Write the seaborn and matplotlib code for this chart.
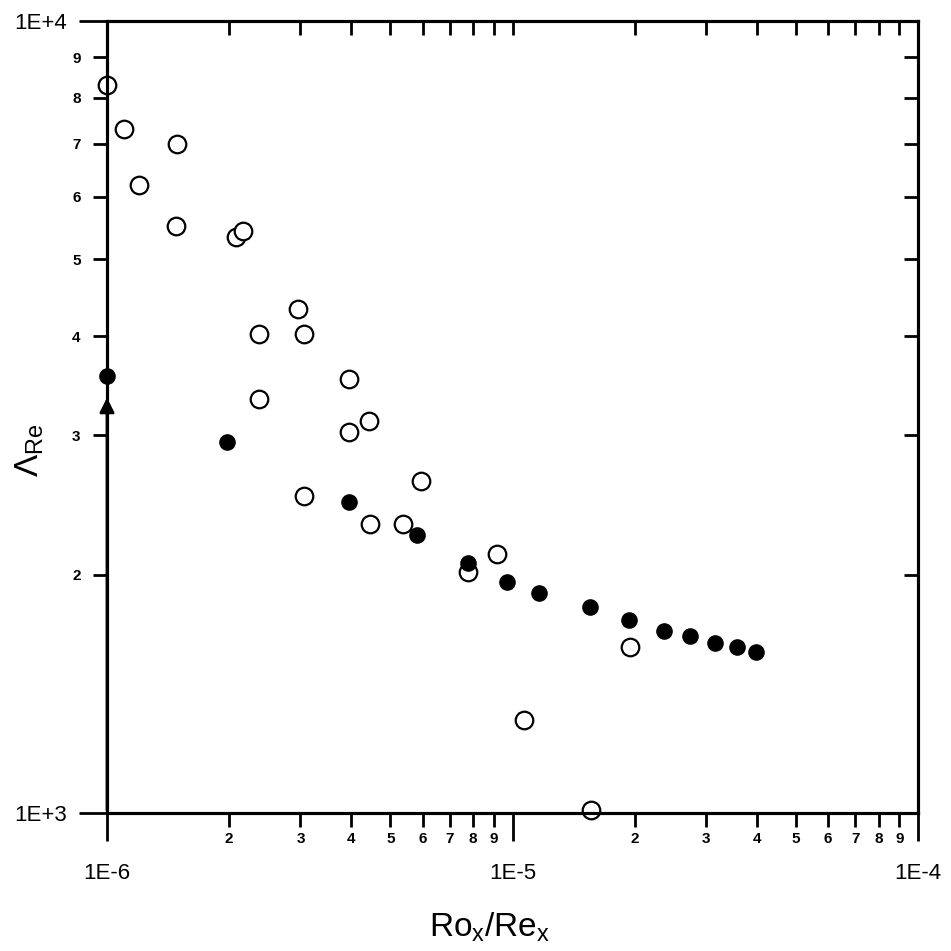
import matplotlib
matplotlib.use('Agg')
import matplotlib.pyplot as plt
import seaborn as sns
import pandas as pd

# open circles
open_x = [1.00e-6, 1.10e-6, 1.196e-6, 1.487e-6, 1.48e-6, 2.08e-6, 2.17e-6, 2.37e-6,
          2.37e-6, 2.96e-6, 3.06e-6, 3.06e-6, 3.95e-6, 3.95e-6, 4.43e-6, 4.44e-6,
          5.38e-6, 5.96e-6, 7.76e-6, 9.18e-6, 1.067e-5, 1.566e-5, 1.944e-5]
open_y = [8300, 7305, 6204, 7003, 5516, 5333, 5428, 4022,
          3328, 4331, 4027, 2514, 3529, 3024, 3130, 2320,
          2319, 2625, 2017, 2124, 1310, 1009, 1619]

# filled circles
fill_x = [1.00e-6, 1.98e-6, 3.95e-6, 5.83e-6, 7.77e-6, 9.68e-6, 1.162e-5,
          1.553e-5, 1.94e-5, 2.37e-5, 2.74e-5, 3.16e-5, 3.57e-5, 3.98e-5]
fill_y = [3564, 2939, 2467, 2244, 2071, 1957, 1894,
          1821, 1751, 1699, 1674, 1639, 1619, 1599]

# arrow at the left edge (lower bound)
arrow_x = 1.0e-6
arrow_top = 3373

x_major = [1e-6, 1e-5, 1e-4]
x_major_labels = ['1E-6', '1E-5', '1E-4']
y_major = [1e3, 1e4]
y_major_labels = ['1E+3', '1E+4']
digits = [2, 3, 4, 5, 6, 7, 8, 9]

sns.set_style('ticks')
plt.rcParams['font.family'] = ['Liberation Sans', 'DejaVu Sans']
plt.rcParams['mathtext.fontset'] = 'custom'
plt.rcParams['mathtext.rm'] = 'Liberation Sans'
plt.rcParams['mathtext.it'] = 'Liberation Sans:italic'
for key in ('text.color', 'axes.labelcolor', 'xtick.color', 'ytick.color', 'axes.edgecolor'):
    plt.rcParams[key] = 'black'

fig = plt.figure(figsize=(9.51, 9.51), dpi=100)
ax = fig.add_axes([107 / 951, 1 - 813 / 951, 811 / 951, 792 / 951])

df_open = pd.DataFrame({'x': open_x, 'y': open_y})
df_fill = pd.DataFrame({'x': fill_x, 'y': fill_y})

sns.scatterplot(data=df_open, x='x', y='y', ax=ax, s=160, color='white',
                edgecolor='black', linewidth=1.6, clip_on=False, zorder=3)
sns.scatterplot(data=df_fill, x='x', y='y', ax=ax, s=120, color='black',
                edgecolor='black', linewidth=1, clip_on=False, zorder=4)

ax.set_xscale('log')
ax.set_yscale('log')
ax.set_xlim(1e-6, 1e-4)
ax.set_ylim(1e3, 1e4)

ax.annotate('', xy=(arrow_x, arrow_top), xytext=(arrow_x, 1e3),
            arrowprops=dict(arrowstyle='-|>', color='black', lw=2, mutation_scale=22),
            annotation_clip=False)

# tick positions
x_minor = [d * 10.0 ** e for e in (-6, -5) for d in digits]
x_minor_labels = [str(d) for e in (-6, -5) for d in digits]
y_minor = [d * 1e3 for d in digits]
y_minor_labels = [str(d) for d in digits]

ax.set_xticks(x_major, x_major_labels, fontsize=16)
ax.set_xticks(x_minor, x_minor_labels, minor=True, fontsize=11, fontweight='bold')
ax.set_yticks(y_major, y_major_labels, fontsize=16)
ax.set_yticks(y_minor, y_minor_labels, minor=True, fontsize=11, fontweight='bold')

ax.tick_params(axis='both', which='major', direction='out', length=20, width=2, color='black')
ax.tick_params(axis='both', which='minor', direction='out', length=10, width=2, color='black')
ax.tick_params(axis='x', which='major', pad=16)
ax.tick_params(axis='x', which='minor', pad=4)
ax.tick_params(axis='y', which='major', pad=9)
ax.tick_params(axis='y', which='minor', pad=9)

for sp in ax.spines.values():
    sp.set_visible(True)
    sp.set_linewidth(2.2)
    sp.set_color('black')

# inward ticks on top and right
top = ax.twiny()
top.set_xscale('log')
top.set_xlim(ax.get_xlim())
top.set_xticks(x_major, [])
top.set_xticks(x_minor, [], minor=True)
top.tick_params(axis='x', which='both', direction='in', length=10, width=2)
right = ax.twinx()
right.set_yscale('log')
right.set_ylim(ax.get_ylim())
right.set_yticks(y_major, [])
right.set_yticks(y_minor, [], minor=True)
right.tick_params(axis='y', which='both', direction='in', length=10, width=2)
for a in (top, right):
    for sp in a.spines.values():
        sp.set_linewidth(2.2)

ax.set_xlabel('')
ax.set_ylabel('')
fig.text(490 / 951, 1 - 927 / 951, r'$\mathregular{Ro_x/Re_x}$', fontsize=24,
         ha='center', va='center')
fig.text(30 / 951, 1 - 450 / 951, r'$\mathregular{\Lambda_{Re}}$', fontsize=24,
         ha='center', va='center', rotation=90)

fig.savefig('out.png', dpi=100)
